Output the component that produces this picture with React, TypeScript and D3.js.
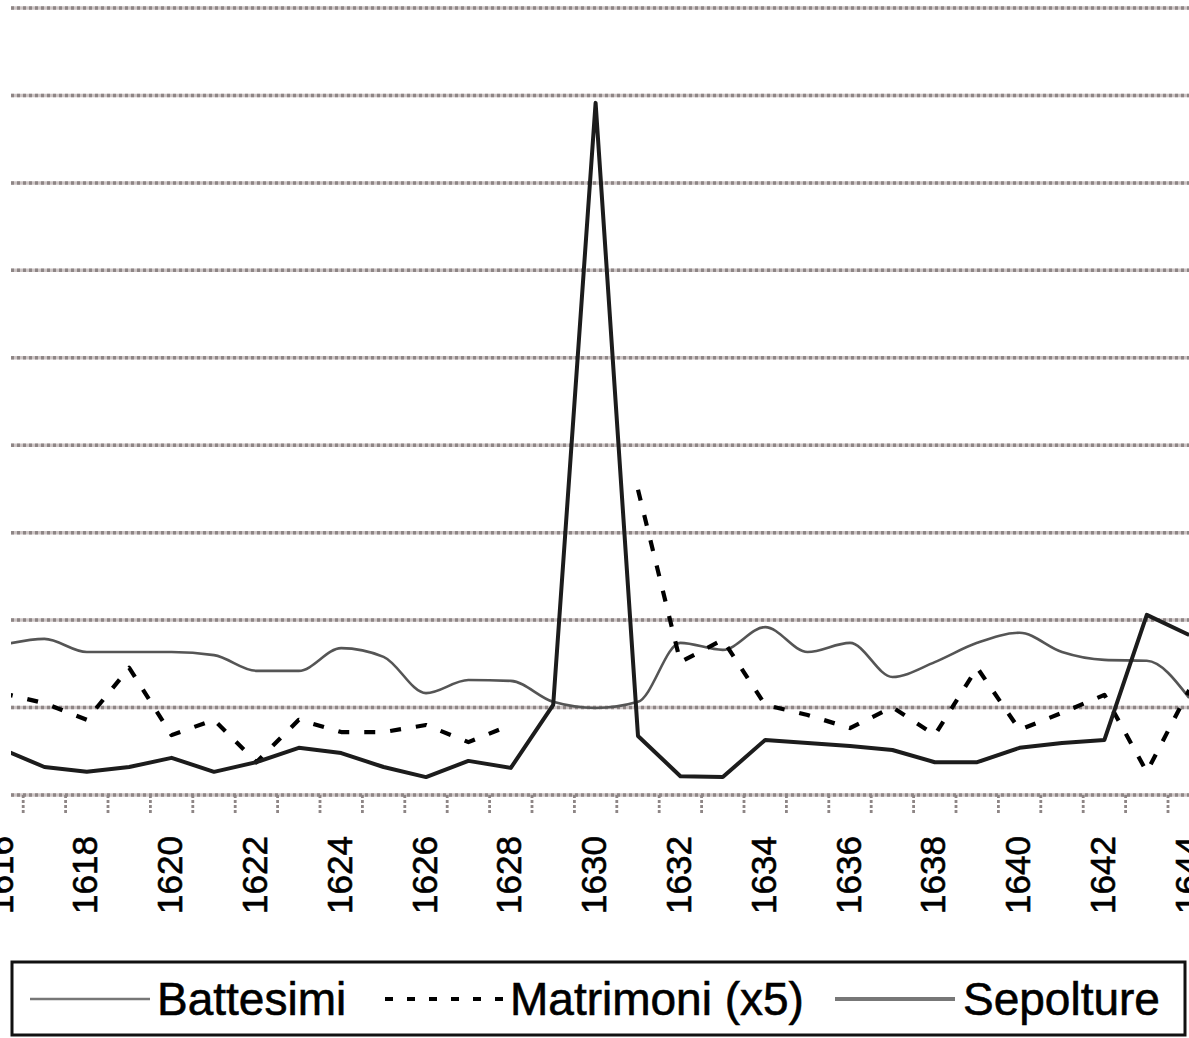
import React from "react";
import * as d3 from "d3";

const years: number[] = d3.range(1616, 1645);
const tickLabelYears: number[] = d3.range(1616, 1645, 2);

const battesimi: (number | null)[] = [
  34.3, 35.7, 32.7, 32.7, 32.7, 32.0, 28.4, 28.4, 33.6, 31.6,
  23.3, 26.3, 26.1, 21.3, 19.9, 21.3, 34.8, 33.2, 38.4, 32.7,
  34.8, 27.0, 30.4, 34.8, 37.1, 32.7, 30.9, 30.7, 22.2,
];

const matrimoni: (number | null)[] = [
  23.3, 21.0, 17.2, 29.1, 13.7, 17.2, 7.5, 17.2, 14.4, 14.4,
  16.0, 12.1, 16.0, null, null, 69.8, 30.4, 35.5, 20.6, 18.3,
  15.3, 20.1, 13.7, 29.1, 14.9, 18.8, 22.9, 5.3, 24.0,
];

const sepolture: (number | null)[] = [
  10.5, 6.4, 5.3, 6.4, 8.5, 5.3, 7.5, 10.8, 9.6, 6.4,
  4.1, 7.8, 6.2, 20.6, 158.3, 13.5, 4.3, 4.1, 12.6, 11.9,
  11.2, 10.3, 7.5, 7.5, 10.8, 11.9, 12.6, 41.2, 36.6,
];

const yTicks: number[] = d3.range(0, 181, 20);

const seriesNames = ["Battesimi", "Matrimoni (x5)", "Sepolture"];

const W = 1189;
const H = 1038;

export default function App() {
  const plot = { left: 11, right: 1189, top: 8, bottom: 795 };
  const x = d3
    .scaleBand<number>()
    .domain(years)
    .range([-19.2, -19.2 + 42.4 * years.length])
    .padding(0);
  const bw = x.bandwidth();
  const y = d3.scaleLinear().domain([0, 180]).range([plot.bottom, plot.top]);

  const curves = [d3.curveMonotoneX, d3.curveLinear, d3.curveLinear];

  const mk = (vals: (number | null)[], curve: d3.CurveFactory) =>
    d3
      .line<number>()
      .defined((_, i) => vals[i] != null)
      .curve(curve)
      .x((yr) => (x(yr) as number) + bw / 2)
      .y((_, i) => y(vals[i] as number))(years) as string;

  const styles = [
    { stroke: "#555", width: 2.6, dash: undefined as string | undefined },
    { stroke: "#000", width: 4.2, dash: "11 15" },
    { stroke: "#1c1c1c", width: 4, dash: undefined as string | undefined },
  ];
  const data = [battesimi, matrimoni, sepolture];

  const gridBase = "#cdc5c5";
  const gridDot = "#8e8686";

  const legendItems = [
    { x1: 30, x2: 150, tx: 157 },
    { x1: 385, x2: 505, tx: 510 },
    { x1: 835, x2: 955, tx: 963 },
  ];

  return (
    <svg
      width={W}
      height={H}
      style={{ position: "absolute", left: 0, top: 0, background: "#fff" }}
      fontFamily="'Liberation Sans', Arial, sans-serif"
    >
      <defs>
        <clipPath id="plotClip">
          <rect x={plot.left} y={0} width={plot.right - plot.left} height={plot.bottom + 2} />
        </clipPath>
      </defs>
      <rect x={0} y={0} width={W} height={H} fill="#fff" />
      {/* gridlines */}
      {yTicks.map((t) => (
        <g key={t}>
          <line x1={plot.left} x2={plot.right} y1={y(t)} y2={y(t)} stroke={gridBase} strokeWidth={3.5} />
          <line
            x1={plot.left}
            x2={plot.right}
            y1={y(t)}
            y2={y(t)}
            stroke={gridDot}
            strokeWidth={3.5}
            strokeDasharray="3 3"
          />
        </g>
      ))}
      {/* x ticks */}
      {years.slice(1).map((yr) => (
        <line
          key={yr}
          x1={x(yr) as number}
          x2={x(yr) as number}
          y1={plot.bottom}
          y2={plot.bottom + 18}
          stroke={gridDot}
          strokeWidth={2.8}
          strokeDasharray="3 2"
        />
      ))}
      {/* tick labels */}
      {tickLabelYears.map((yr) => {
        const cx = (x(yr) as number) + bw / 2 - 2;
        return (
          <text
            key={yr}
            transform={`translate(${cx},836) rotate(-90)`}
            textAnchor="end"
            dy="0.36em"
            fontSize={35}
            fill="#000"
            stroke="#000"
            strokeWidth={0.6}
          >
            {yr}
          </text>
        );
      })}
      {/* series */}
      <g clipPath="url(#plotClip)">
        {data.map((vals, i) => (
          <path
            key={i}
            d={mk(vals, curves[i])}
            fill="none"
            stroke={styles[i].stroke}
            strokeWidth={styles[i].width}
            strokeDasharray={styles[i].dash}
            strokeLinejoin="round"
          />
        ))}
      </g>
      {/* legend */}
      <rect x={12} y={962} width={1173} height={73} fill="none" stroke="#111" strokeWidth={3} />
      {legendItems.map((it, i) => (
        <g key={i}>
          <line
            x1={it.x1}
            x2={it.x2}
            y1={999}
            y2={999}
            stroke={i === 2 ? "#777" : i === 0 ? "#777" : styles[i].stroke}
            strokeWidth={styles[i].width}
            strokeDasharray={i === 1 ? "8 14" : undefined}
          />
          <text x={it.tx} y={1015} fontSize={46} fill="#000" stroke="#000" strokeWidth={0.6}>
            {seriesNames[i]}
          </text>
        </g>
      ))}
    </svg>
  );
}
